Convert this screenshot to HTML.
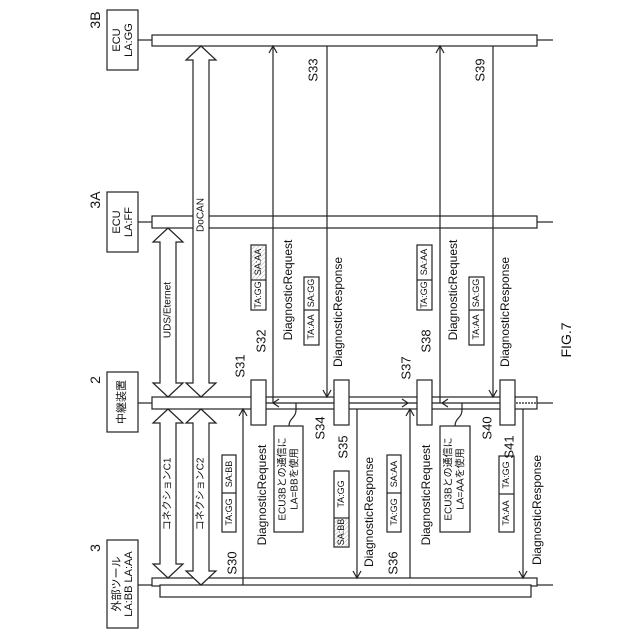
<!DOCTYPE html>
<html><head><meta charset="utf-8"><style>
html,body{margin:0;padding:0;background:#fff}
svg{display:block}
text{font-family:"Liberation Sans","Noto Sans CJK JP",sans-serif;fill:#111}
</style></head><body>
<svg width="640" height="640" viewBox="0 0 640 640" xmlns="http://www.w3.org/2000/svg">
<defs>
<pattern id="h" width="3" height="3" patternUnits="userSpaceOnUse" patternTransform="rotate(45)"><line x1="0" y1="0" x2="0" y2="3" stroke="#999" stroke-width="0.8"/></pattern>
</defs>
<g stroke="#222" stroke-width="1.2" fill="none">
<rect x="107" y="10" width="31" height="60" fill="#fff"/>
<rect x="107" y="192" width="31" height="60" fill="#fff"/>
<rect x="107" y="372" width="31" height="60" fill="#fff"/>
<rect x="107" y="540" width="31" height="88" fill="#fff"/>
<line x1="138" y1="40" x2="152" y2="40"/>
<line x1="138" y1="222" x2="152" y2="222"/>
<line x1="138" y1="403" x2="152" y2="403"/>
<line x1="138" y1="585" x2="152" y2="585"/>
<rect x="152" y="35" width="385" height="11" fill="#fff"/>
<rect x="152" y="216" width="385" height="12" fill="#fff"/>
<rect x="152" y="397" width="385" height="12" fill="#fff"/>
<rect x="152" y="578" width="385" height="8" fill="#fff"/>
<rect x="160" y="585" width="371" height="12" fill="#fff"/>
<line x1="537" y1="40" x2="553" y2="40"/>
<line x1="537" y1="222" x2="553" y2="222"/>
<line x1="537" y1="403" x2="553" y2="403"/>
<line x1="537" y1="585" x2="553" y2="585"/>
<line x1="266" y1="403" x2="500" y2="403"/>
<line x1="516" y1="403" x2="537" y2="403" stroke-dasharray="2,1"/>
<polyline points="279,399 273,403 279,407"/>
<polyline points="402,399 408,403 402,407"/>
<polyline points="448,399 442,403 448,407"/>
<polygon fill="#fff" points="201,46 216,60 209,60 209,383 216,383 201,397 186,383 193,383 193,60 186,60"/>
<polygon fill="#fff" points="168,228 183,242 176,242 176,383 183,383 168,397 153,383 160,383 160,242 153,242"/>
<polygon fill="#fff" points="168,409 183,423 176,423 176,564 183,564 168,578 153,564 160,564 160,423 153,423"/>
<polygon fill="#fff" points="201,409 216,423 209,423 209,571 216,571 201,585 186,571 193,571 193,423 186,423"/>
<line x1="243" y1="585" x2="243" y2="409"/><polyline points="239,416 243,409 247,416"/>
<line x1="273" y1="403" x2="273" y2="46"/><polyline points="269,53 273,46 277,53"/>
<line x1="327" y1="46" x2="327" y2="397"/><polyline points="323,390 327,397 331,390"/>
<line x1="357" y1="409" x2="357" y2="578"/><polyline points="353,571 357,578 361,571"/>
<line x1="410" y1="578" x2="410" y2="409"/><polyline points="406,416 410,409 414,416"/>
<line x1="440" y1="403" x2="440" y2="46"/><polyline points="436,53 440,46 444,53"/>
<line x1="493" y1="46" x2="493" y2="397"/><polyline points="489,390 493,397 497,390"/>
<line x1="523" y1="409" x2="523" y2="578"/><polyline points="519,571 523,578 527,571"/>
<rect x="251" y="380" width="15" height="45" fill="#fff"/>
<rect x="334" y="380" width="15" height="45" fill="#fff"/>
<rect x="417" y="380" width="15" height="45" fill="#fff"/>
<rect x="500" y="380" width="15" height="45" fill="#fff"/>
<rect x="274" y="426" width="29" height="106" fill="#fff"/>
<rect x="440" y="426" width="30" height="106" fill="#fff"/>
<path d="M289,426 C289,418 296,418 296,410 L296,403"/>
<path d="M455,426 C455,418 462,418 462,410 L462,403"/>
<rect x="251" y="245" width="15" height="65" fill="#fff"/><line x1="251" y1="280" x2="266" y2="280"/>
<rect x="252" y="246" width="13" height="33" fill="url(#h)" stroke="none"/>
<rect x="304" y="277" width="15" height="68" fill="#fff"/><line x1="304" y1="310" x2="319" y2="310"/>
<rect x="417" y="245" width="15" height="65" fill="#fff"/><line x1="417" y1="280" x2="432" y2="280"/>
<rect x="469" y="277" width="15" height="68" fill="#fff"/><line x1="469" y1="310" x2="484" y2="310"/>
<rect x="222" y="455" width="14" height="77" fill="#fff"/><line x1="222" y1="493" x2="236" y2="493"/>
<rect x="334" y="471" width="15" height="76" fill="#fff"/><line x1="334" y1="518" x2="349" y2="518"/>
<rect x="335" y="519" width="13" height="27" fill="url(#h)" stroke="none"/>
<rect x="387" y="455" width="14" height="77" fill="#fff"/><line x1="387" y1="493" x2="401" y2="493"/>
<rect x="499" y="456" width="15" height="76" fill="#fff"/><line x1="499" y1="494" x2="514" y2="494"/>
</g>
<g font-size="11" text-anchor="middle" dominant-baseline="central">
<text transform="translate(117,40) rotate(-90)">ECU</text>
<text transform="translate(129,40) rotate(-90)">LA:GG</text>
<text transform="translate(117,222) rotate(-90)">ECU</text>
<text transform="translate(129,222) rotate(-90)">LA:FF</text>
<text transform="translate(122,402) rotate(-90)">中継装置</text>
<text transform="translate(117,584) rotate(-90)">外部ツール</text>
<text transform="translate(129,584) rotate(-90)">LA:BB  LA:AA</text>
<text font-size="14" transform="translate(95,20) rotate(-90)">3B</text>
<text font-size="14" transform="translate(95,200) rotate(-90)">3A</text>
<text font-size="14" transform="translate(95,380) rotate(-90)">2</text>
<text font-size="14" transform="translate(95,548) rotate(-90)">3</text>
<text font-size="10" transform="translate(201,215) rotate(-90)">DoCAN</text>
<text font-size="10" transform="translate(168,310) rotate(-90)">UDS/Eternet</text>
<text font-size="10" transform="translate(168,494) rotate(-90)">コネクションC1</text>
<text font-size="10" transform="translate(201,494) rotate(-90)">コネクションC2</text>
<text font-size="12" transform="translate(288,290) rotate(-90)">DiagnosticRequest</text>
<text font-size="12" transform="translate(338,312) rotate(-90)">DiagnosticResponse</text>
<text font-size="12" transform="translate(453,290) rotate(-90)">DiagnosticRequest</text>
<text font-size="12" transform="translate(505,312) rotate(-90)">DiagnosticResponse</text>
<text font-size="12" transform="translate(262,495) rotate(-90)">DiagnosticRequest</text>
<text font-size="12" transform="translate(369,512) rotate(-90)">DiagnosticResponse</text>
<text font-size="12" transform="translate(426,495) rotate(-90)">DiagnosticRequest</text>
<text font-size="12" transform="translate(537,510) rotate(-90)">DiagnosticResponse</text>
<text font-size="10" transform="translate(283,479) rotate(-90)">ECU3Bとの通信に</text>
<text font-size="10" transform="translate(295,479) rotate(-90)">LA=BBを使用</text>
<text font-size="10" transform="translate(449,479) rotate(-90)">ECU3Bとの通信に</text>
<text font-size="10" transform="translate(461,479) rotate(-90)">LA=AAを使用</text>
<g font-size="9">
<text transform="translate(258,262) rotate(-90)">SA:AA</text>
<text transform="translate(258,295) rotate(-90)">TA:GG</text>
<text transform="translate(311,293) rotate(-90)">SA:GG</text>
<text transform="translate(311,327) rotate(-90)">TA:AA</text>
<text transform="translate(424,262) rotate(-90)">SA:AA</text>
<text transform="translate(424,295) rotate(-90)">TA:GG</text>
<text transform="translate(476,293) rotate(-90)">SA:GG</text>
<text transform="translate(476,327) rotate(-90)">TA:AA</text>
<text transform="translate(229,474) rotate(-90)">SA:BB</text>
<text transform="translate(229,512) rotate(-90)">TA:GG</text>
<text transform="translate(341,494) rotate(-90)">TA:GG</text>
<text transform="translate(341,532) rotate(-90)">SA:BB</text>
<text transform="translate(394,474) rotate(-90)">SA:AA</text>
<text transform="translate(394,512) rotate(-90)">TA:GG</text>
<text transform="translate(506,475) rotate(-90)">TA:GG</text>
<text transform="translate(506,513) rotate(-90)">TA:AA</text>
</g>
<g font-size="13">
<text transform="translate(232,563) rotate(-90)">S30</text>
<text transform="translate(240,366) rotate(-90)">S31</text>
<text transform="translate(261,341) rotate(-90)">S32</text>
<text transform="translate(313,70) rotate(-90)">S33</text>
<text transform="translate(320,428) rotate(-90)">S34</text>
<text transform="translate(343,447) rotate(-90)">S35</text>
<text transform="translate(393,563) rotate(-90)">S36</text>
<text transform="translate(406,368) rotate(-90)">S37</text>
<text transform="translate(426,341) rotate(-90)">S38</text>
<text transform="translate(480,70) rotate(-90)">S39</text>
<text transform="translate(487,428) rotate(-90)">S40</text>
<text transform="translate(509,447) rotate(-90)">S41</text>
<text font-size="14" transform="translate(566,340) rotate(-90)">FIG.7</text>
</g>
</g>
</svg>
</body></html>
